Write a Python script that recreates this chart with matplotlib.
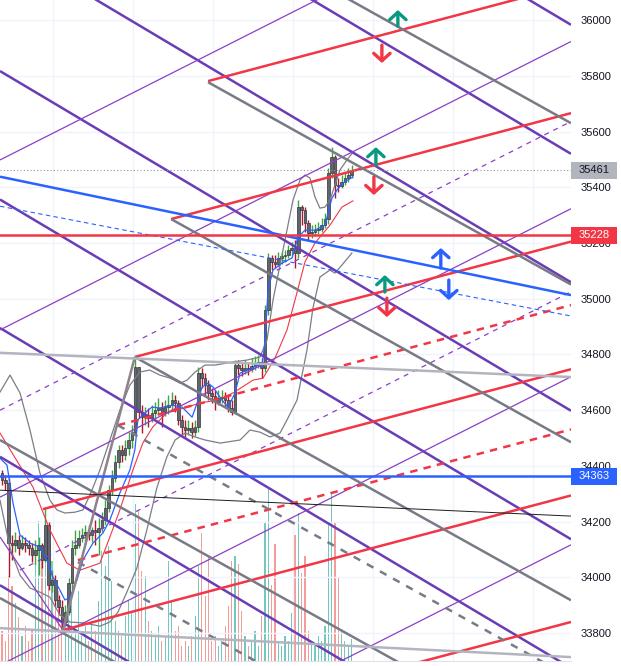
import matplotlib.pyplot as plt
from matplotlib.patches import Rectangle
from matplotlib.transforms import blended_transform_factory

plt.rcParams['font.family'] = ['Liberation Sans', 'DejaVu Sans']

# candles, one bar per index
first_open = 34374
close = [34349, 34338, 34123, 34116, 34134, 34105, 34123, 34116, 34105, 34080,
         34098, 34116, 34062, 34188, 33972, 33990, 33919, 33893, 33840, 33876,
         33980, 34105, 34116, 34141, 34152, 34163, 34152, 34170, 34163, 34177,
         34206, 34249, 34313, 34356, 34414, 34457, 34439, 34464, 34493, 34522,
         34755, 34593, 34575, 34583, 34572, 34590, 34600, 34608, 34593, 34611,
         34618, 34636, 34626, 34565, 34540, 34529, 34536, 34522, 34540, 34733,
         34715, 34690, 34661, 34651, 34629, 34644, 34647, 34636, 34608, 34593,
         34762, 34751, 34744, 34751, 34748, 34758, 34769, 34773, 34751, 34959,
         35146, 35132, 35125, 35146, 35153, 35157, 35175, 35182, 35164, 35329,
         35318, 35272, 35236, 35239, 35246, 35250, 35264, 35286, 35451, 35508,
         35408, 35404, 35419, 35433, 35444, 35461]
high = [34385, 34367, 34356, 34152, 34163, 34152, 34152, 34145, 34134, 34123,
        34134, 34145, 34123, 34249, 34198, 34026, 34008, 33937, 33919, 33901,
        33998, 34134, 34170, 34170, 34177, 34188, 34188, 34181, 34206, 34213,
        34234, 34277, 34331, 34385, 34439, 34475, 34475, 34493, 34522, 34547,
        34791, 34755, 34618, 34611, 34608, 34618, 34629, 34644, 34629, 34636,
        34654, 34665, 34654, 34636, 34583, 34565, 34565, 34557, 34565, 34755,
        34751, 34733, 34708, 34679, 34672, 34672, 34672, 34665, 34651, 34636,
        34780, 34780, 34773, 34780, 34773, 34787, 34794, 34798, 34787, 34977,
        35164, 35157, 35157, 35168, 35168, 35175, 35193, 35203, 35211, 35354,
        35336, 35329, 35282, 35264, 35268, 35275, 35290, 35307, 35469, 35544,
        35516, 35433, 35444, 35455, 35469, 35480]
low = [34331, 34313, 34001, 34062, 34091, 34080, 34098, 34091, 34080, 34055,
       34044, 34008, 34033, 34055, 33954, 33947, 33893, 33865, 33804, 33829,
       33865, 33954, 34080, 34105, 34127, 34116, 34134, 34127, 34116, 34080,
       34163, 34188, 34234, 34295, 34342, 34392, 34414, 34421, 34439, 34464,
       34511, 34572, 34518, 34547, 34540, 34557, 34572, 34583, 34540, 34579,
       34586, 34600, 34593, 34547, 34511, 34504, 34511, 34500, 34507, 34522,
       34679, 34654, 34636, 34626, 34600, 34618, 34626, 34611, 34593, 34583,
       34586, 34726, 34722, 34730, 34726, 34737, 34744, 34751, 34715, 34737,
       34941, 35103, 35110, 35117, 35125, 35132, 35146, 35157, 35110, 35146,
       35264, 35239, 35211, 35218, 35225, 35232, 35239, 35254, 35268, 35433,
       35361, 35383, 35397, 35408, 35419, 35433]
volume = [30, 20, 85, 75, 58, 44, 25, 35, 20, 30,
          95, 140, 110, 150, 80, 100, 60, 70, 45, 55,
          50, 65, 30, 70, 25, 35, 20, 40, 30, 60,
          110, 95, 115, 80, 40, 30, 25, 45, 60, 50,
          157, 150, 90, 85, 40, 30, 25, 35, 20, 25,
          100, 60, 30, 35, 15, 20, 15, 25, 45, 95,
          128, 65, 105, 20, 25, 15, 20, 35, 55, 100,
          105, 97, 50, 25, 15, 20, 30, 15, 45, 138,
          172, 76, 117, 20, 15, 25, 20, 48, 126, 148,
          88, 105, 30, 20, 15, 25, 20, 35, 138, 168,
          138, 84, 30, 20, 15, 22]

# indicators (bar position, price)
ma_fast_x = [-0.6, 1.5, 3.3, 5.4, 8.4, 11.4, 13.5, 15.3, 17.4, 18.9, 20.4, 22.5, 24.3,
             27.3, 30.3, 32.4, 35.4, 38.4, 39.9, 40.8, 42.9, 45, 47.4, 51.1, 54.1, 57.1,
             58.6, 60.1, 61.9, 63.4, 66.1, 67.9, 70, 71.5, 73.9, 76.9, 78.1, 79, 79.9,
             81.4, 84.1, 87.1, 88.9, 91, 94, 97, 99.1, 100.6, 102.4, 105.4]
ma_fast = [34428, 34403, 34267, 34152, 34123, 34109, 34062, 34001, 33954, 33919,
           33929, 33990, 34062, 34123, 34159, 34206, 34303, 34385, 34457, 34565,
           34590, 34611, 34608, 34618, 34611, 34575, 34626, 34683, 34697, 34683,
           34636, 34611, 34662, 34733, 34744, 34762, 34755, 34852, 35031, 35103,
           35128, 35146, 35221, 35246, 35246, 35264, 35361, 35390, 35415, 35437]
ma_slow_x = [-0.6, 9.3, 14.4, 19.5, 23.4, 29.4, 32.4, 35.4, 39.3, 42.3, 45.3, 49.5, 55.6,
             59.5, 64.6, 69.4, 75.4, 78.4, 82, 85.6, 88, 91, 94, 98.5, 102.1, 105.4]
ma_slow = [34518, 34324, 34170, 34051, 34026, 34051, 34145, 34242, 34385, 34482,
           34540, 34590, 34611, 34626, 34636, 34662, 34708, 34715, 34787, 34888,
           34995, 35132, 35200, 35264, 35329, 35351]
bb_up_x = [-0.6, 2.4, 5.4, 8.4, 11.4, 14.4, 16.5, 18.9, 21.9, 24.3, 26.4, 29.4, 32.4,
           35.4, 38.4, 41.4, 44.4, 47.4, 50.5, 53.5, 55.6, 58, 61, 64, 69.4, 73.6,
           77.5, 79.6, 81.4, 84.4, 87.4, 89.5, 91, 92.5, 94, 95.5, 97, 98.5, 101.5,
           103.6, 105.4]
bb_up = [34665, 34726, 34662, 34529, 34374, 34277, 34242, 34231, 34234, 34242,
         34295, 34385, 34493, 34600, 34690, 34737, 34744, 34726, 34715, 34697,
         34708, 34737, 34762, 34762, 34773, 34780, 34791, 34852, 34995, 35175,
         35354, 35426, 35444, 35433, 35365, 35325, 35329, 35354, 35462, 35498, 35526]
bb_lo_x = [-0.6, 2.4, 5.4, 8.4, 11.4, 14.4, 17.4, 20.4, 24.9, 29.4, 32.4, 34.8, 37.5,
           40.5, 43.5, 46.5, 49.5, 52, 55, 58, 61, 65.5, 71.5, 74.5, 77.5, 80.5, 83.5,
           85.6, 88.6, 91.6, 93.4, 95.5, 98.5, 100, 102.1, 105.1]
bb_lo = [34277, 34105, 34008, 33962, 33947, 33929, 33865, 33840, 33836, 33825,
         33840, 33875, 33947, 34033, 34170, 34321, 34432, 34493, 34518, 34504,
         34493, 34482, 34493, 34529, 34521, 34504, 34518, 34565, 34636, 34816,
         34967, 35078, 35103, 35092, 35121, 35164]

# drawings: (bar0, price0, bar1, price1)
purple_thick = [(-0.6, 37202, 170.9, 35983), (-0.6, 36739, 170.9, 35520),
                (-0.6, 36278, 170.9, 35059), (-0.6, 35817, 170.9, 34598),
                (-0.6, 35356, 170.9, 34137), (-0.6, 34895, 170.9, 33675),
                (-0.6, 34433, 170.9, 33214), (-0.6, 33972, 170.9, 32753)]
purple_thin = [(-0.6, 35498, 170.9, 36533), (-0.6, 34888, 170.9, 35923),
               (-0.6, 34288, 170.9, 35323), (-0.6, 33685, 170.9, 34720),
               (-0.6, 33082, 170.9, 34117), (-0.6, 34145, 18.3, 33811)]
purple_dashed = [(-0.6, 34600, 170.9, 35636), (5.4, 34026, 170.9, 35025)]
red_solid = [(61.9, 35781, 170.9, 36126), (50.8, 35286, 170.9, 35666),
             (39.9, 34791, 170.9, 35205), (12.3, 34245, 170.9, 34747),
             (18.3, 33811, 170.9, 34294), (-0.6, 33297, 170.9, 33840)]
red_dashed = [(34.8, 34546, 170.9, 34977), (22.8, 34062, 170.9, 34531)]
gray_solid = [(-0.6, 36772, 170.9, 35630), (61.9, 35777, 170.9, 35051),
              (50.8, 35286, 170.9, 34485), (39.9, 34791, 170.9, 33918),
              (-0.6, 34493, 170.9, 33350), (-0.6, 33926, 170.9, 32784)]
gray_dashed = [(34.8, 34546, 170.9, 33640), (22.8, 34055, 170.9, 33069)]
swing = [(18.3, 33811, 39.9, 34791)]
light_gray = [(-0.6, 34806, 170.9, 34719), (-0.6, 33818, 170.9, 33714)]
black_line = [(-0.6, 34313, 170.9, 34220)]
blue_solid = [(-0.6, 35438, 170.9, 35013)]
blue_dashed = [(-0.6, 35332, 170.9, 34938)]

red_level = 35228
blue_level = 34363
last_price = 35461

# arrows: (bar, tail price, tip price)
green_up = [(118.9, 35978, 36036), (112.3, 35480, 35544), (115.0, 35024, 35085)]
red_down = [(114.1, 35910, 35846), (111.7, 35437, 35372), (115.6, 35002, 34934)]
blue_up = [(131.8, 35110, 35182)]
blue_down = [(134.2, 35067, 34995)]

price_ticks = list(range(33800, 36001, 200))
grid_bars = [15.3, 39.3, 63.4, 87.4, 111.4, 135.4, 159.5]

fig = plt.figure(figsize=(6.21, 6.66), dpi=100)
ax = fig.add_axes([0, 5 / 666, 571 / 621, 661 / 666])
axv = ax.twinx()
ax.set_zorder(2)
axv.set_zorder(1)
ax.patch.set_visible(False)
ax.yaxis.tick_right()

n = len(close)
idx = list(range(n))
opens = [first_open] + close[:-1]
up = [c >= o for o, c in zip(opens, close)]

# volume
axv.bar(idx, volume, width=0.34, color=['#72c7be' if u else '#f49c9a' for u in up])
axv.set_ylim(0, 661)
axv.set_yticks([])
for s in axv.spines.values():
    s.set_visible(False)

# candles
hi = [max(h, o, c) for h, o, c in zip(high, opens, close)]
lo = [min(l, o, c) for l, o, c in zip(low, opens, close)]
ax.vlines(idx, lo, hi, colors=['#3fa63f' if u else '#b3172a' for u in up], lw=1.0, zorder=3)
ax.bar(idx, [max(abs(c - o), 3) for o, c in zip(opens, close)],
       bottom=[min(o, c) for o, c in zip(opens, close)],
       width=0.78, color='#62656e', edgecolor='#33363d', lw=0.5, zorder=4)

# indicators
ax.plot(bb_up_x, bb_up, color='#7b7e88', lw=0.9, zorder=5)
ax.plot(bb_lo_x, bb_lo, color='#7b7e88', lw=0.9, zorder=5)
ax.plot(ma_slow_x, ma_slow, color='#f23645', lw=0.8, zorder=5)
ax.plot(ma_fast_x, ma_fast, color='#2962ff', lw=0.9, zorder=5)


def draw(segs, **kw):
    for x0, p0, x1, p1 in segs:
        ax.plot([x0, x1], [p0, p1], zorder=6, solid_capstyle='butt', **kw)


draw(purple_thick, color='#6a3cb5', lw=1.8)
draw(purple_thin, color='#8c3fc6', lw=0.9)
draw(purple_dashed, color='#8c3fc6', lw=0.9, ls=(0, (4, 4)))
draw(red_solid, color='#f23645', lw=1.8)
draw(red_dashed, color='#f23645', lw=1.8, ls=(0, (3, 2.5)))
draw(gray_solid, color='#787b86', lw=1.8)
draw(gray_dashed, color='#787b86', lw=1.8, ls=(0, (3, 3)))
draw(swing, color='#8f8288', lw=1.8)
draw(light_gray, color='#b2b5be', lw=1.8)
draw(black_line, color='#1e1e1e', lw=0.7)
draw(blue_solid, color='#2962ff', lw=1.8)
draw(blue_dashed, color='#2962ff', lw=0.8, ls=(0, (4, 3)))

ax.axhline(red_level, color='#f23645', lw=1.8, zorder=6)
ax.axhline(blue_level, color='#2962ff', lw=1.8, zorder=6)
ax.axhline(last_price, color='#9598a1', lw=0.8, ls=(0, (1, 2)), zorder=6)

for group, col in [(green_up, '#089981'), (red_down, '#f23645'),
                   (blue_up, '#2962ff'), (blue_down, '#2962ff')]:
    for b, tail, tip in group:
        ax.annotate('', xy=(b, tip), xytext=(b, tail), zorder=12,
                    arrowprops=dict(arrowstyle='->,head_length=0.38,head_width=0.42',
                                    lw=2.4, color=col, shrinkA=0, shrinkB=0,
                                    mutation_scale=14, capstyle='round'))

ax.set_xlim(-0.6, 170.9)
ax.set_ylim(33700, 36072)
ax.set_yticks(price_ticks)
ax.set_xticks(grid_bars)
ax.tick_params(axis='x', length=0, labelbottom=False)
ax.tick_params(axis='y', length=0, pad=7, labelsize=8, labelcolor='#131722')
ax.set_axisbelow(True)
ax.grid(color='#f0f3fa', lw=1)
for k in ['top', 'left', 'right']:
    ax.spines[k].set_visible(False)
ax.spines['bottom'].set_color('#e0e3eb')

tr = blended_transform_factory(ax.transAxes, ax.transData)
for p, face, fg in [(last_price, '#b2b5be', '#131722'), (red_level, '#f23645', 'white'),
                    (blue_level, '#2962ff', 'white')]:
    ax.add_patch(Rectangle((1.0, p - 31), 0.081, 62, transform=tr, clip_on=False,
                           facecolor=face, edgecolor='none', zorder=10))
    ax.text(1.014, p, str(p), transform=tr, va='center', ha='left', fontsize=8,
            color=fg, zorder=11, clip_on=False)

fig.savefig('out.png', dpi=100, facecolor='white')
